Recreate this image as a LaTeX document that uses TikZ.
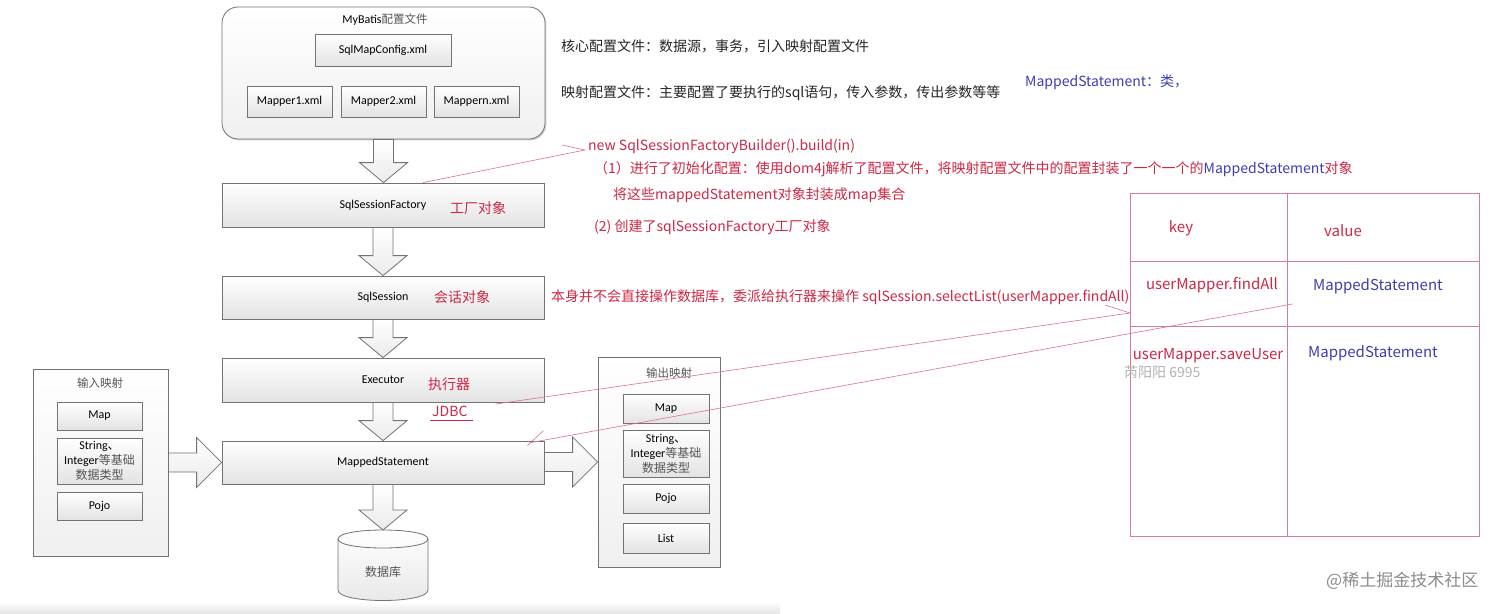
\documentclass[tikz,border=0pt]{standalone}
\usepackage{fontspec}
\setmainfont{Noto Sans CJK SC}
\newfontfamily\carl{Carlito}
\newfontfamily\cjk{Noto Sans CJK SC}
\usetikzlibrary{calc,shadows}
\definecolor{anred}{RGB}{205,40,70}
\definecolor{anblue}{RGB}{62,62,175}
\definecolor{lnred}{RGB}{218,115,138}
\definecolor{tblred}{RGB}{215,125,145}
\definecolor{boxline}{RGB}{115,115,115}
\definecolor{cjkgray}{RGB}{85,85,85}
\newcommand\bdown[2]{\draw[barrow] let \p1=(#1.south), \p2=(#2) in
  (\x1-10pt,\y1) -- (\x1+10pt,\y1) -- (\x1+10pt,\y2+20pt) -- (\x1+24pt,\y2+20pt)
  -- (\x1,\y2) -- (\x1-24pt,\y2+20pt) -- (\x1-10pt,\y2+20pt) -- cycle;}
\newcommand\bright[2]{\draw[barrow] let \p1=(#1.east), \p2=(#2.west) in
  (\x1,\y2+9.5pt) -- (\x2-25pt,\y2+9.5pt) -- (\x2-25pt,\y2+25pt) -- (\x2,\y2)
  -- (\x2-25pt,\y2-25pt) -- (\x2-25pt,\y2-9.5pt) -- (\x1,\y2-9.5pt) -- cycle;}
\begin{document}
\begin{tikzpicture}[x=1pt,y=-1pt,
  vbox/.style={draw=boxline, line width=0.8pt, top color=white, bottom color=black!11,
    drop shadow={shadow xshift=1.3pt,shadow yshift=-1.3pt,opacity=0.25,fill=black},
    inner sep=0pt, font=\carl\fontsize{12}{15}\selectfont, align=center},
  cbox/.style={draw=boxline, line width=0.8pt, top color=white, bottom color=black!6,
    drop shadow={shadow xshift=1.3pt,shadow yshift=-1.3pt,opacity=0.2,fill=black},
    inner sep=0pt},
  barrow/.style={draw=boxline, line width=0.8pt, top color=white, bottom color=black!8},
  cjklab/.style={font=\cjk\fontsize{11.5}{14}\selectfont, text=cjkgray, inner sep=0pt},
  ann/.style={font=\fontsize{14}{16}\selectfont, text=anred, anchor=west, inner sep=0pt},
  blk/.style={font=\fontsize{14}{16}\selectfont, text=black!85, anchor=west, inner sep=0pt},
  tbl/.style={font=\fontsize{15}{17}\selectfont, inner sep=0pt},
  lnk/.style={draw=lnred, line width=0.6pt},
]
\useasboundingbox (0,0) rectangle (1512,613);
\fill[white] (0,0) rectangle (1512,613);
\shade[top color=white, bottom color=black!10] (0,602) rectangle (780,613);

% ---------- config file container ----------
\node[cbox, rounded corners=16pt, minimum width=323, minimum height=132] (cfg) at (383.5,73) {};
\node[inner sep=0pt, font=\carl\fontsize{12}{14}\selectfont] (cfgt) at (385,20) {MyBatis{\cjk\fontsize{11.5}{14}\selectfont\color{cjkgray}配置文件}};
\node[vbox, minimum width=136, minimum height=32] (smc) at (383,50) {SqlMapConfig.xml};
\node[vbox, minimum width=85, minimum height=31] (m1) at (289.5,101.5) {Mapper1.xml};
\node[vbox, minimum width=85, minimum height=31] (m2) at (383.5,101.5) {Mapper2.xml};
\node[vbox, minimum width=85, minimum height=31] (mn) at (476.5,101.5) {Mappern.xml};

% ---------- main flow ----------
\node[vbox, minimum width=322, minimum height=44] (sf) at (383,205) {SqlSessionFactory};
\node[vbox, minimum width=322, minimum height=43] (ss) at (383,297.5) {SqlSession};
\node[vbox, minimum width=322, minimum height=44] (ex) at (383,380) {Executor};
\node[vbox, minimum width=322, minimum height=43] (ms) at (383,462.5) {MappedStatement};

% database
\node[inner sep=0pt, minimum width=90, minimum height=72] (db) at (383,566) {};
\draw[draw=boxline, line width=0.8pt, top color=white, bottom color=black!9]
  (338,539) .. controls (338,527) and (428,527) .. (428,539) -- (428,590)
  .. controls (428,604) and (338,604) .. (338,590) -- cycle;
\draw[draw=boxline, line width=0.8pt] (338,539) .. controls (338,551) and (428,551) .. (428,539);
\node[cjklab, font=\cjk\fontsize{12}{14}\selectfont] (dbt) at (383,572) {数据库};
\coordinate (dbtop) at (383,530);

% block arrows down
\bdown{cfg}{sf.north}
\bdown{sf}{ss.north}
\bdown{ss}{ex.north}
\bdown{ex}{ms.north}
\bdown{ms}{dbtop}

% ---------- input mapping ----------
\node[cbox, minimum width=135, minimum height=187] (inp) at (100.5,462.5) {};
\node[cjklab] (inpt) at (100,383) {输入映射};
\node[vbox, minimum width=85, minimum height=28] (im) at (99.5,416) {Map};
\node[vbox, minimum width=85, minimum height=46] (is) at (99.5,461) {String{\cjk、}\\Integer{\cjk\color{cjkgray}等基础}\\{\cjk\color{cjkgray}数据类型}};
\node[vbox, minimum width=85, minimum height=28] (ip) at (99.5,506) {Pojo};

% ---------- output mapping ----------
\node[cbox, minimum width=122, minimum height=210] (outp) at (659,462) {};
\node[cjklab] (outt) at (669,373) {输出映射};
\node[vbox, minimum width=86, minimum height=29] (om) at (666,408.5) {Map};
\node[vbox, minimum width=86, minimum height=47] (os) at (666,453.5) {String{\cjk、}\\Integer{\cjk\color{cjkgray}等基础}\\{\cjk\color{cjkgray}数据类型}};
\node[vbox, minimum width=86, minimum height=29] (op) at (666,498.5) {Pojo};
\node[vbox, minimum width=86, minimum height=30] (ol) at (666,538) {List};

% block arrows right
\bright{inp}{ms}
\bright{ms}{outp}

% ---------- annotations ----------
\node[blk] (core) at (561,46) {核心配置文件：数据源，事务，引入映射配置文件};
\node[blk] (mapf) at (561,93) {映射配置文件：主要配置了要执行的sql语句，传入参数，传出参数等等};
\node[ann, text=anblue] (msc) at (1025,82) {MappedStatement：类，};

\node[ann] (newb) at (588,146) {new SqlSessionFactoryBuilder().build(in)};
\node[ann] (p1) at (594,169) {（1）进行了初始化配置：使用dom4j解析了配置文件，将映射配置文件中的配置封装了一个一个的\textcolor{anblue}{MappedStatement}对象};
\node[ann] (p1b) at (613,195) {将这些mappedStatement对象封装成map集合};
\node[ann] (p2) at (594,227) {(2) 创建了sqlSessionFactory工厂对象};

\node[ann] (gc) at (450,208) {工厂对象};
\node[ann] (hh) at (434,297) {会话对象};
\node[ann] (sel) at (551,297) {本身并不会直接操作数据库，委派给执行器来操作 sqlSession.selectList(userMapper.findAll)};
\node[ann] (zxq) at (428,384) {执行器};
\node[ann] (jdbc) at (432,411) {JDBC};
\draw[draw=anred, line width=0.6pt] (430,420) -- (473,420);

% ---------- map table ----------
\draw[draw=tblred, line width=0.6pt] (1130,193) rectangle (1479,536);
\draw[draw=tblred, line width=0.6pt] (1287,193) -- (1287,536);
\draw[draw=tblred, line width=0.6pt] (1130,261) -- (1479,261);
\draw[draw=tblred, line width=0.6pt] (1130,326) -- (1479,326);
\node[tbl, text=anred] (tk) at (1181,228) {key};
\node[tbl, text=anred] (tv) at (1343,231) {value};
\node[tbl, text=anred] (k1) at (1212,285) {userMapper.findAll};
\node[tbl, text=anblue] (v1) at (1378,286) {MappedStatement};
\node[tbl, text=anred] (k2) at (1208,356) {userMapper.saveUser};
\node[tbl, text=anblue] (v2) at (1373,353) {MappedStatement};
\node[font=\fontsize{14}{16}\selectfont, text=black!30, anchor=west, inner sep=0pt] (wm1) at (1124,372) {芮阳阳 6995};
\node[font=\fontsize{17}{19}\selectfont, text=black!45, anchor=west, inner sep=0pt] (wm2) at (1326,581) {@稀土掘金技术社区};

% ---------- red pointer lines ----------
\coordinate (v0) at ($(newb.west)+(-3,4)$);
\draw[lnk] ($(sf.north west)!0.624!(sf.north east)$) -- (v0) -- ++(-23,-5);
\coordinate (t1) at (1130,313);
\draw[lnk] ($(jdbc.east)+(28,-7)$) -- (t1) -- ++(-25,-8);
\draw[lnk] ($(ms.north east)+(-14,2)$) -- ($(v1.south west)+(-20,10)$);
\draw[lnk] ($(ms.north east)+(-17,5)$) -- ++(16,-15);
\end{tikzpicture}
\end{document}
